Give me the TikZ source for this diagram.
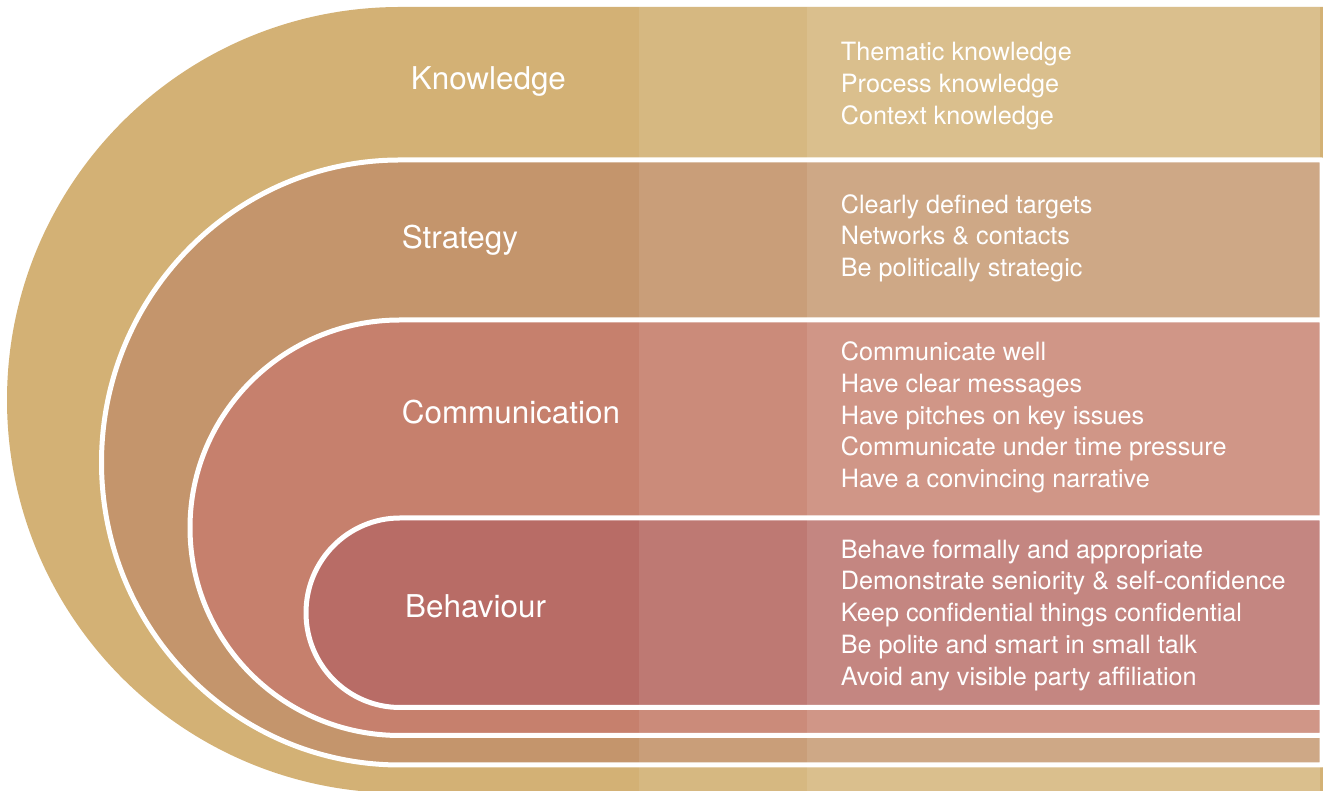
\documentclass[tikz,border=0pt]{standalone}
\usepackage{fontspec}
\setmainfont{TeX Gyre Heros}
\definecolor{cKnow}{HTML}{D3B175}
\definecolor{cStrat}{HTML}{C4956C}
\definecolor{cComm}{HTML}{C6806D}
\definecolor{cBeh}{HTML}{B86C66}
\tikzset{
  layer/.style={draw=white, line width=5pt, line join=round},
  tint/.style={fill=white, draw=none},
  headlbl/.style={anchor=base west, inner sep=0pt, text=white, font=\fontsize{31.4}{36}\selectfont},
  itemlbl/.style={anchor=base west, inner sep=0pt, text=white, font=\fontsize{25.2}{30}\selectfont}
}
\begin{document}
\begin{tikzpicture}[x=1pt,y=1pt]
\useasboundingbox (0,0) rectangle (1323,791);
% layers
\path[fill=cKnow] (1323,784) -- (400,784) arc[start angle=90,end angle=270,radius=393] -- (1323,-2) -- cycle;
\path[layer, fill=cStrat] (1322,631) -- (400,631) arc[start angle=90,end angle=270,x radius=298.5,y radius=302.5] -- (1322,26) -- cycle;
\path[layer, fill=cComm] (1322,471) -- (400,471) arc[start angle=90,end angle=270,x radius=210,y radius=207.75] -- (1322,55.5) -- cycle;
\path[layer, fill=cBeh] (1322,273) -- (400,273) arc[start angle=90,end angle=270,x radius=94,y radius=94.75] -- (1322,83.5) -- cycle;
% column tints
\fill[tint, fill opacity=0.09] (638.5,0) rectangle (806.5,784);
\fill[tint, fill opacity=0.18] (806.5,0) rectangle (1320,784);
% headings
\node[headlbl] (hk) at (410.7,701) {Knowledge};
\node[headlbl] (hs) at (401.7,542.7) {Strategy};
\node[headlbl] (hc) at (401.7,367.7) {Communication};
\node[headlbl] (hb) at (405,173.7) {Behaviour};
% knowledge items
\node[itemlbl] (k1) at (840.7,730.3) {Thematic knowledge};
\node[itemlbl] (k2) at (840.7,698.6) {Process knowledge};
\node[itemlbl] (k3) at (840.7,666.9) {Context knowledge};
% strategy items
\node[itemlbl] (s1) at (840.7,577.7) {Clearly defined targets};
\node[itemlbl] (s2) at (840.7,546.0) {Networks \& contacts};
\node[itemlbl] (s3) at (840.7,514.3) {Be politically strategic};
% communication items
\node[itemlbl] (c1) at (840.7,430.3) {Communicate well};
\node[itemlbl] (c2) at (840.7,398.6) {Have clear messages};
\node[itemlbl] (c3) at (840.7,366.9) {Have pitches on key issues};
\node[itemlbl] (c4) at (840.7,335.2) {Communicate under time pressure};
\node[itemlbl] (c5) at (840.7,303.5) {Have a convincing narrative};
% behaviour items
\node[itemlbl] (b1) at (840.7,232.7) {Behave formally and appropriate};
\node[itemlbl] (b2) at (840.7,201.0) {Demonstrate seniority \& self-confidence};
\node[itemlbl] (b3) at (840.7,169.3) {Keep confidential things confidential};
\node[itemlbl] (b4) at (840.7,137.6) {Be polite and smart in small talk};
\node[itemlbl] (b5) at (840.7,105.9) {Avoid any visible party affiliation};
\end{tikzpicture}
\end{document}
